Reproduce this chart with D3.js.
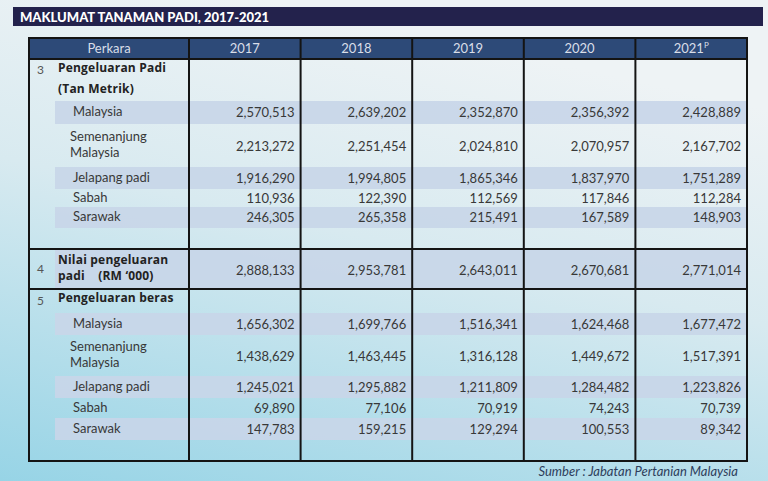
<!DOCTYPE html>
<html>
<head>
<meta charset="utf-8">
<script src="https://cdn.jsdelivr.net/npm/d3@7"></script>
<style>
  html, body { margin: 0; padding: 0; overflow: hidden; }
  #chart { width: 768px; height: 481px; }
</style>
</head>
<body>
<div id="chart"></div>
<script>
// data
const title = 'MAKLUMAT TANAMAN PADI, 2017-2021';
const years = ['2017', '2018', '2019', '2020', '2021'];
const itemLabels = ['Malaysia', 'Semenanjung\nMalaysia', 'Jelapang padi', 'Sabah', 'Sarawak'];

const padiValues = [
  [2570513, 2639202, 2352870, 2356392, 2428889],
  [2213272, 2251454, 2024810, 2070957, 2167702],
  [1916290, 1994805, 1865346, 1837970, 1751289],
  [110936, 122390, 112569, 117846, 112284],
  [246305, 265358, 215491, 167589, 148903]
];
const nilaiValues = [2888133, 2953781, 2643011, 2670681, 2771014];
const berasValues = [
  [1656302, 1699766, 1516341, 1624468, 1677472],
  [1438629, 1463445, 1316128, 1449672, 1517391],
  [1245021, 1295882, 1211809, 1284482, 1223826],
  [69890, 77106, 70919, 74243, 70739],
  [147783, 159215, 129294, 100553, 89342]
];
const source = 'Sumber : Jabatan Pertanian Malaysia';

const W = 768, H = 481;
const fmt = d3.format(',');
const bodyFont = 'Lato, "Open Sans", sans-serif';
const boldFont = '"Open Sans", Lato, sans-serif';

const svg = d3.select('#chart').append('svg')
  .attr('width', W).attr('height', H);

// background wash
const defs = svg.append('defs');
const bg = defs.append('linearGradient').attr('id', 'bg')
  .attr('x1', 0.35).attr('y1', 0).attr('x2', 0).attr('y2', 1);
bg.append('stop').attr('offset', 0).attr('stop-color', '#eef3f5');
bg.append('stop').attr('offset', 0.4).attr('stop-color', '#d8eaf0');
bg.append('stop').attr('offset', 1).attr('stop-color', '#97d4e6');
svg.append('rect').attr('width', W).attr('height', H).attr('fill', 'url(#bg)');

// title bar
svg.append('rect').attr('x', 13).attr('y', 7).attr('width', 750).attr('height', 19)
  .attr('fill', '#23224c');
svg.append('text').attr('x', 20).attr('y', 21.5)
  .attr('fill', '#ffffff').attr('font-family', bodyFont).attr('font-weight', 900)
  .attr('font-size', 13).text(title);

// columns
const tableLeft = 29, labelRight = 189, tableRight = 747;
const x = d3.scaleBand().domain(years).range([labelRight, tableRight]);

// rows built from the data arrays
const itemH3 = [23, 43, 22, 18, 21];
const itemH5 = [22, 41, 22, 20, 22];
const rows = [];
rows.push({ kind: 'title', num: '3', lines: ['Pengeluaran Padi', '(Tan Metrik)'], h: 42, gap: 21 });
itemLabels.forEach((l, i) => rows.push({ kind: 'item', lines: l.split('\n'), values: padiValues[i], band: i % 2 === 0, h: itemH3[i] }));
rows.push({ kind: 'pad', h: 21 });
rows.push({ kind: 'total', num: '4', lines: ['Nilai pengeluaran', 'padi    (RM \u2018000)'], values: nilaiValues, band: true, h: 40, ruleTop: true });
rows.push({ kind: 'title', num: '5', lines: ['Pengeluaran beras'], h: 24, ruleTop: true });
itemLabels.forEach((l, i) => rows.push({ kind: 'item', lines: l.split('\n'), values: berasValues[i], band: i % 2 === 0, h: itemH5[i] }));
rows.push({ kind: 'pad', h: 21 });

const headTop = 38, headH = 21;
let yCur = headTop + headH;
rows.forEach(r => { r.y = yCur; yCur += r.h; });
const tableBottom = yCur;

// bands
svg.append('g').selectAll('rect')
  .data(rows.filter(r => r.band))
  .join('rect')
  .attr('x', 55).attr('y', r => r.y)
  .attr('width', tableRight - 55).attr('height', r => r.h)
  .attr('fill', '#c8d6e8').attr('fill-opacity', 0.92);

// header
svg.append('rect').attr('x', tableLeft).attr('y', headTop)
  .attr('width', tableRight - tableLeft).attr('height', headH).attr('fill', '#2d4a78');
const head = svg.append('g').attr('font-family', bodyFont).attr('font-size', 13)
  .attr('fill', '#d9dee8').attr('text-anchor', 'middle');
head.append('text').attr('x', (tableLeft + labelRight) / 2).attr('y', headTop + headH / 2)
  .attr('dy', '0.35em').text('Perkara');
const yh = head.selectAll('text.yr').data(years).join('text').attr('class', 'yr')
  .attr('x', d => x(d) + x.bandwidth() / 2).attr('y', headTop + headH / 2).attr('dy', '0.35em')
  .text(d => d);
yh.filter(d => d === '2021').append('tspan').attr('font-size', 8).attr('dy', '-0.6em').text('P');

// row labels and values
const body = svg.append('g').attr('fill', '#383838');
rows.forEach(r => {
  if (r.kind === 'pad') return;
  const mid = r.y + r.h / 2;
  if (r.num) {
    body.append('text').attr('x', 37).attr('y', r.kind === 'title' && r.lines.length > 1 ? r.y + 11 : mid)
      .attr('dy', '0.35em').attr('font-family', bodyFont).attr('font-size', 12)
      .attr('fill', '#555').text(r.num);
  }
  const bold = r.kind !== 'item';
  const step = r.gap || 16;
  r.lines.forEach((t, i) => {
    let ly;
    if (r.kind === 'title') ly = r.lines.length > 1 ? r.y + 9 + i * step : mid - 3;
    else ly = mid + (i - (r.lines.length - 1) / 2) * step - (r.lines.length > 1 ? 1.5 : 1);
    body.append('text').attr('x', bold ? 58 : (r.lines.length > 1 ? 70 : 73)).attr('y', ly)
      .attr('dy', '0.35em')
      .attr('font-family', bold ? boldFont : bodyFont)
      .attr('font-weight', bold ? 700 : 400)
      .attr('font-size', bold ? 12 : 13)
      .attr('letter-spacing', bold ? 0.2 : 0)
      .attr('fill', bold ? '#222' : '#383838')
      .style('white-space', 'pre')
      .text(t);
  });
  if (r.values) {
    body.append('g').selectAll('text').data(r.values).join('text')
      .attr('x', (d, i) => x(years[i]) + x.bandwidth() - 6)
      .attr('y', mid + (r.lines.length > 1 ? 1 : 0)).attr('dy', '0.35em')
      .attr('text-anchor', 'end').attr('font-family', bodyFont).attr('font-size', 13)
      .text(d => fmt(d));
  }
});

// grid lines
const grid = svg.append('g').attr('stroke', '#141414').attr('stroke-width', 2).attr('fill', 'none');
grid.append('rect').attr('x', tableLeft).attr('y', headTop)
  .attr('width', tableRight - tableLeft).attr('height', tableBottom - headTop);
grid.selectAll('line.v').data(years).join('line').attr('class', 'v')
  .attr('x1', d => x(d)).attr('x2', d => x(d))
  .attr('y1', headTop).attr('y2', tableBottom);
grid.selectAll('line.h').data([{ y: headTop + headH }].concat(rows.filter(r => r.ruleTop)))
  .join('line').attr('class', 'h')
  .attr('x1', tableLeft).attr('x2', tableRight)
  .attr('y1', d => d.y).attr('y2', d => d.y);

// source note
svg.append('text').attr('x', 738).attr('y', 471).attr('dy', '0.35em')
  .attr('text-anchor', 'end').attr('font-family', bodyFont).attr('font-style', 'italic')
  .attr('font-size', 13).attr('fill', '#2e3d5c').text(source);
</script>
</body>
</html>
